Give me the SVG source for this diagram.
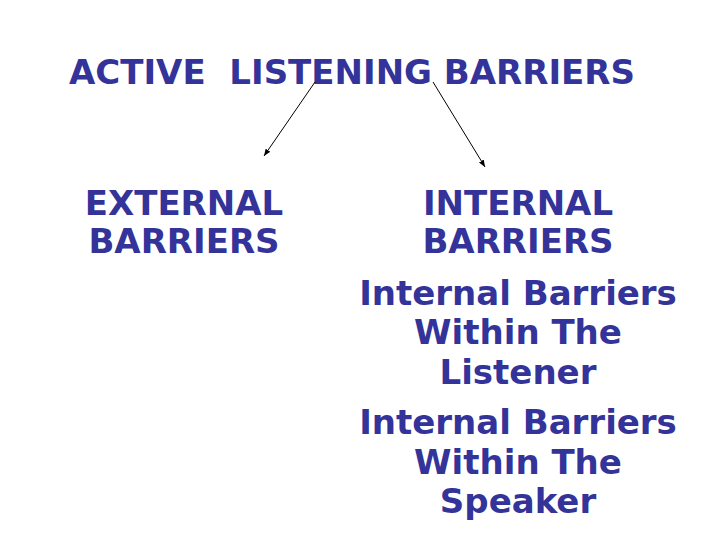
<svg xmlns="http://www.w3.org/2000/svg" width="720" height="540" viewBox="0 0 720 540">
<defs>
<style>
.t{font-family:"DejaVu Sans","Liberation Sans",sans-serif;font-weight:bold;font-size:34px;fill:#333399;text-anchor:middle}
.c{stroke:#000;stroke-width:1;fill:none}
</style>
<marker id="ah" viewBox="0 0 10 10" refX="10" refY="5" markerWidth="7" markerHeight="7" orient="auto" markerUnits="userSpaceOnUse">
<path d="M0,1 L10,5 L0,9 z" fill="#000"/>
</marker>
</defs>
<rect width="720" height="540" fill="#fff"/>
<g id="title"><text class="t" x="352" y="84" xml:space="preserve">ACTIVE  LISTENING BARRIERS</text></g>
<g id="external"><text class="t" x="184" y="215">EXTERNAL</text><text class="t" x="184" y="253">BARRIERS</text></g>
<g id="internal"><text class="t" x="518" y="215">INTERNAL</text><text class="t" x="518" y="253">BARRIERS</text></g>
<g id="listener"><text class="t" x="518" y="305">Internal Barriers</text><text class="t" x="518" y="344">Within The</text><text class="t" x="518" y="384">Listener</text></g>
<g id="speaker"><text class="t" x="518" y="434">Internal Barriers</text><text class="t" x="518" y="474">Within The</text><text class="t" x="518" y="513">Speaker</text></g>
<g id="connectors">
<line class="c" x1="315" y1="82" x2="264" y2="156" marker-end="url(#ah)"/>
<line class="c" x1="433" y1="82" x2="485" y2="167" marker-end="url(#ah)"/>
</g>
</svg>
